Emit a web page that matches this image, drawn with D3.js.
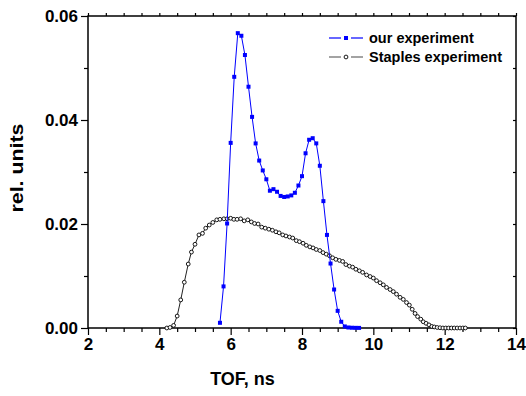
<!DOCTYPE html>
<html><head><meta charset="utf-8">
<script src="https://cdn.jsdelivr.net/npm/d3@7/dist/d3.min.js"></script>
<style>body{margin:0;background:#fff}svg{display:block;font-family:Arial,"Liberation Sans",sans-serif}</style>
</head><body><svg id="c" width="526" height="396"></svg>
<script>
const ourX = [5.7,5.8,5.9,6.0,6.1,6.2,6.3,6.4,6.5,6.6,6.7,6.8,6.9,7.0,7.1,7.2,7.3,7.4,7.5,7.6,7.7,7.8,7.9,8.0,8.1,8.2,8.3,8.4,8.5,8.6,8.7,8.8,8.9,9.0,9.1,9.2,9.3,9.4,9.5,9.6];
const ourY = [0.0010,0.0080,0.0201,0.0356,0.0483,0.0567,0.0562,0.0525,0.0464,0.0406,0.0355,0.0322,0.0303,0.0286,0.0264,0.0267,0.0262,0.0254,0.0252,0.0253,0.0255,0.0260,0.0274,0.0292,0.0336,0.0362,0.0365,0.0355,0.0312,0.0244,0.0179,0.0124,0.0074,0.0033,0.0012,0.0003,0.0001,0.00005,0.00003,0.00002];
const stX = [4.21,4.30,4.40,4.50,4.60,4.70,4.81,4.90,5.00,5.11,5.21,5.30,5.40,5.50,5.61,5.70,5.81,5.90,6.00,6.09,6.18,6.28,6.38,6.48,6.58,6.67,6.77,6.87,6.97,7.07,7.17,7.27,7.36,7.46,7.55,7.65,7.74,7.84,7.93,8.03,8.12,8.22,8.31,8.40,8.50,8.59,8.68,8.77,8.86,8.95,9.05,9.14,9.23,9.33,9.42,9.51,9.61,9.70,9.81,9.91,10.00,10.09,10.19,10.28,10.37,10.47,10.56,10.65,10.75,10.84,10.93,11.01,11.09,11.17,11.24,11.33,11.40,11.48,11.56,11.64,11.71,11.79,11.87,11.95,12.03,12.11,12.19,12.27,12.35,12.43,12.51,12.58];
const stY = [0.0000,0.0001,0.0005,0.0023,0.0054,0.0088,0.0123,0.0146,0.0161,0.0179,0.0182,0.0192,0.0198,0.0203,0.0208,0.0209,0.0210,0.0210,0.0211,0.0209,0.0209,0.0210,0.0206,0.0208,0.0204,0.0201,0.0200,0.0194,0.0192,0.0190,0.0188,0.0185,0.0183,0.0179,0.0177,0.0175,0.0173,0.0168,0.0166,0.0163,0.0159,0.0156,0.0154,0.0151,0.0149,0.0145,0.0142,0.0139,0.0135,0.0132,0.0130,0.0128,0.0122,0.0119,0.0117,0.0113,0.0110,0.0107,0.0102,0.0099,0.0096,0.0091,0.0087,0.0083,0.0078,0.0074,0.0070,0.0065,0.0059,0.0055,0.0049,0.0044,0.0036,0.0028,0.0022,0.0017,0.0012,0.0009,0.0006,0.0003,0.0002,0.0001,0.00005,0,0,0,0,0,0,0,0,0];
const xTicks = [2,4,6,8,10,12,14];
const yTicks = [0.00,0.02,0.04,0.06];
const seriesNames = ["our experiment","Staples experiment"];
const xTitle = "TOF, ns", yTitle = "rel. units";

const L=88,R=516,T=16,B=328;
const svg=d3.select("#c");
const x=d3.scaleLinear().domain([2,14]).range([L,R]);
const y=d3.scaleLinear().domain([0,0.06]).range([B,T]);

svg.append("rect").attr("x",L).attr("y",T).attr("width",R-L).attr("height",B-T)
  .attr("fill","none").attr("stroke","#000").attr("stroke-width",1.5);

const xMinor=d3.range(2,14.01,0.5), yMinor=d3.range(0,0.0601,0.01);
svg.append("g").attr("transform",`translate(0,${B})`)
  .call(d3.axisBottom(x).tickValues(xTicks).tickFormat(d3.format("d")).tickSize(7).tickPadding(3));
svg.append("g").attr("transform",`translate(0,${B})`)
  .call(d3.axisBottom(x).tickValues(xMinor.filter(v=>v%2!==0)).tickFormat("").tickSize(4));
svg.append("g").attr("transform",`translate(${L},0)`)
  .call(d3.axisLeft(y).tickValues(yTicks).tickFormat(d3.format(".2f")).tickSize(7).tickPadding(3));
svg.append("g").attr("transform",`translate(${L},0)`)
  .call(d3.axisLeft(y).tickValues([0.01,0.03,0.05]).tickFormat("").tickSize(4));
svg.append("g").attr("transform",`translate(0,${T})`)
  .call(d3.axisTop(x).tickValues(xMinor).tickFormat("").tickSize(3));
svg.append("g").attr("transform",`translate(${R},0)`)
  .call(d3.axisRight(y).tickValues(yMinor).tickFormat("").tickSize(-3));
svg.selectAll(".domain").remove();
svg.selectAll(".tick line").attr("stroke","#000").attr("stroke-width",1.2);
svg.selectAll(".tick text").attr("font-size",17).attr("font-weight","bold").attr("fill","#000")
  .attr("font-family","Arial, 'Liberation Sans', sans-serif");

svg.append("text").attr("x",242.5).attr("y",385).attr("text-anchor","middle")
  .attr("font-size",18).attr("font-weight","bold").text(xTitle);
svg.append("text").attr("transform","translate(23,168) rotate(-90)").attr("text-anchor","middle")
  .attr("font-size",18).attr("font-weight","bold")
  .attr("textLength",89).attr("lengthAdjust","spacingAndGlyphs").text(yTitle);

const st=stX.map((v,i)=>[v,stY[i]]), our=ourX.map((v,i)=>[v,ourY[i]]);
const line=d3.line().x(d=>x(d[0])).y(d=>y(d[1]));
svg.append("path").attr("d",line(st)).attr("fill","none").attr("stroke","#222").attr("stroke-width",1);
svg.selectAll("circle.st").data(st).join("circle").attr("class","st")
  .attr("cx",d=>x(d[0])).attr("cy",d=>y(d[1])).attr("r",1.9)
  .attr("fill","#fff").attr("stroke","#000").attr("stroke-width",0.9);
svg.append("path").attr("d",line(our)).attr("fill","none").attr("stroke","#0000ff").attr("stroke-width",1);
svg.selectAll("rect.our").data(our).join("rect").attr("class","our")
  .attr("x",d=>x(d[0])-2).attr("y",d=>y(d[1])-2).attr("width",4).attr("height",4).attr("fill","#0000ff");

const lg=svg.append("g");
const rows=[{c:"#0000ff",y:38},{c:"#666",y:57}];
rows.forEach((r,i)=>{
  lg.append("line").attr("x1",329).attr("x2",341).attr("y1",r.y).attr("y2",r.y).attr("stroke",r.c).attr("stroke-width",1.2);
  lg.append("line").attr("x1",351).attr("x2",363).attr("y1",r.y).attr("y2",r.y).attr("stroke",r.c).attr("stroke-width",1.2);
  if(i===0) lg.append("rect").attr("x",344).attr("y",r.y-2).attr("width",4).attr("height",4).attr("fill","#0000ff");
  else lg.append("circle").attr("cx",346).attr("cy",r.y).attr("r",1.9).attr("fill","#fff").attr("stroke","#000").attr("stroke-width",0.9);
  lg.append("text").attr("x",369).attr("y",r.y+5).attr("font-size",14.5).attr("font-weight","bold").text(seriesNames[i]);
});
</script></body></html>
